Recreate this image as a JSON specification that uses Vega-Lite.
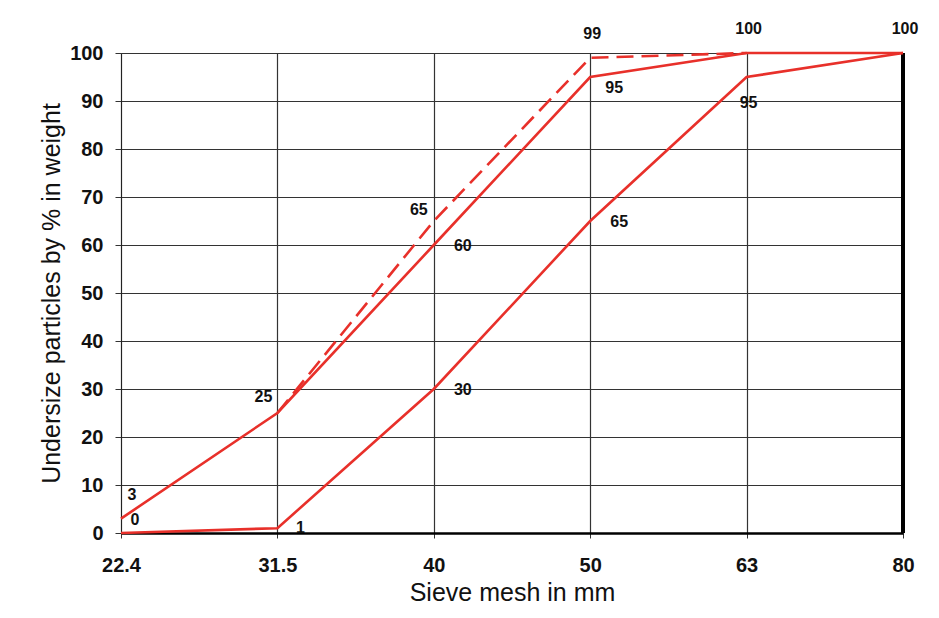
{
  "$schema": "https://vega.github.io/schema/vega-lite/v6.json",
  "autosize": "none",
  "width": 782,
  "height": 480,
  "padding": {"left": 121, "top": 53, "right": 36, "bottom": 85},
  "background": "white",
  "config": {
    "font": "Liberation Sans",
    "view": {"stroke": null},
    "axis": {
      "grid": true,
      "gridColor": "#333",
      "gridWidth": 1.2,
      "gridOpacity": 1,
      "domainColor": "#222",
      "tickColor": "#333",
      "labelColor": "#111",
      "titleColor": "#111",
      "labelFont": "Liberation Sans",
      "titleFont": "Liberation Sans",
      "labelFontWeight": "bold",
      "labelFontSize": 20,
      "titleFontSize": 25,
      "titleFontWeight": "normal"
    }
  },
  "data": {
    "values": [
      {"sieve": "22.4", "pct": 3, "series": "upper"},
      {"sieve": "31.5", "pct": 25, "series": "upper"},
      {"sieve": "40", "pct": 60, "series": "upper"},
      {"sieve": "50", "pct": 95, "series": "upper"},
      {"sieve": "63", "pct": 100, "series": "upper"},
      {"sieve": "80", "pct": 100, "series": "upper"},
      {"sieve": "31.5", "pct": 25, "series": "dashed"},
      {"sieve": "40", "pct": 65, "series": "dashed"},
      {"sieve": "50", "pct": 99, "series": "dashed"},
      {"sieve": "63", "pct": 100, "series": "dashed"},
      {"sieve": "22.4", "pct": 0, "series": "lower"},
      {"sieve": "31.5", "pct": 1, "series": "lower"},
      {"sieve": "40", "pct": 30, "series": "lower"},
      {"sieve": "50", "pct": 65, "series": "lower"},
      {"sieve": "63", "pct": 95, "series": "lower"},
      {"sieve": "80", "pct": 100, "series": "lower"}
    ]
  },
  "encoding": {
    "x": {
      "field": "sieve",
      "type": "ordinal",
      "sort": ["22.4", "31.5", "40", "50", "63", "80"],
      "scale": {"type": "point", "padding": 0},
      "axis": {
        "title": "Sieve mesh in mm",
        "labelAngle": 0,
        "tickSize": 5,
        "labelPadding": 17,
        "titlePadding": 5,
        "domainWidth": 2.5,
        "domainColor": "#000"
      }
    },
    "y": {
      "field": "pct",
      "type": "quantitative",
      "scale": {"domain": [0, 100], "nice": false},
      "axis": {
        "title": "Undersize particles by % in weight",
        "values": [0, 10, 20, 30, 40, 50, 60, 70, 80, 90, 100],
        "tickSize": 6,
        "labelPadding": 12,
        "titlePadding": 5
      }
    }
  },
  "layer": [
    {
      "mark": {"type": "rule", "color": "#000", "strokeWidth": 3},
      "encoding": {"x": {"datum": "80"}, "y": {"datum": 0}, "y2": {"datum": 100}}
    },
    {
      "transform": [{"filter": "datum.series !== 'dashed'"}],
      "mark": {"type": "line", "color": "#e8302a", "strokeWidth": 2.6},
      "encoding": {"detail": {"field": "series"}}
    },
    {
      "transform": [{"filter": "datum.series === 'dashed'"}],
      "mark": {"type": "line", "color": "#e8302a", "strokeWidth": 2.6, "strokeDash": [17, 8]}
    },
    {
      "transform": [{"filter": "(datum.series === 'upper' && datum.sieve === '40') || (datum.series === 'lower' && (datum.sieve === '40' || datum.sieve === '50'))"}],
      "mark": {"type": "text", "fontSize": 16, "fontWeight": "bold", "color": "#111", "dx": 29, "dy": 1},
      "encoding": {"text": {"field": "pct"}}
    },
    {
      "transform": [{"filter": "(datum.series === 'dashed' && datum.sieve === '50') || (datum.series === 'upper' && (datum.sieve === '63' || datum.sieve === '80'))"}],
      "mark": {"type": "text", "fontSize": 16, "fontWeight": "bold", "color": "#111", "dx": 2, "dy": -24},
      "encoding": {"text": {"field": "pct"}}
    },
    {
      "transform": [{"filter": "datum.series === 'upper' && datum.sieve === '22.4'"}],
      "mark": {"type": "text", "fontSize": 16, "fontWeight": "bold", "color": "#111", "dx": 11, "dy": -24},
      "encoding": {"text": {"field": "pct"}}
    },
    {
      "transform": [{"filter": "datum.series === 'lower' && datum.sieve === '22.4'"}],
      "mark": {"type": "text", "fontSize": 16, "fontWeight": "bold", "color": "#111", "dx": 14, "dy": -13},
      "encoding": {"text": {"field": "pct"}}
    },
    {
      "transform": [{"filter": "datum.series === 'upper' && datum.sieve === '31.5'"}],
      "mark": {"type": "text", "fontSize": 16, "fontWeight": "bold", "color": "#111", "dx": -14, "dy": -16},
      "encoding": {"text": {"field": "pct"}}
    },
    {
      "transform": [{"filter": "datum.series === 'lower' && datum.sieve === '31.5'"}],
      "mark": {"type": "text", "fontSize": 16, "fontWeight": "bold", "color": "#111", "dx": 23, "dy": 0},
      "encoding": {"text": {"field": "pct"}}
    },
    {
      "transform": [{"filter": "datum.series === 'dashed' && datum.sieve === '40'"}],
      "mark": {"type": "text", "fontSize": 16, "fontWeight": "bold", "color": "#111", "dx": -15, "dy": -11},
      "encoding": {"text": {"field": "pct"}}
    },
    {
      "transform": [{"filter": "datum.series === 'upper' && datum.sieve === '50'"}],
      "mark": {"type": "text", "fontSize": 16, "fontWeight": "bold", "color": "#111", "dx": 24, "dy": 11},
      "encoding": {"text": {"field": "pct"}}
    },
    {
      "transform": [{"filter": "datum.series === 'lower' && datum.sieve === '63'"}],
      "mark": {"type": "text", "fontSize": 16, "fontWeight": "bold", "color": "#111", "dx": 2, "dy": 26},
      "encoding": {"text": {"field": "pct"}}
    }
  ]
}
